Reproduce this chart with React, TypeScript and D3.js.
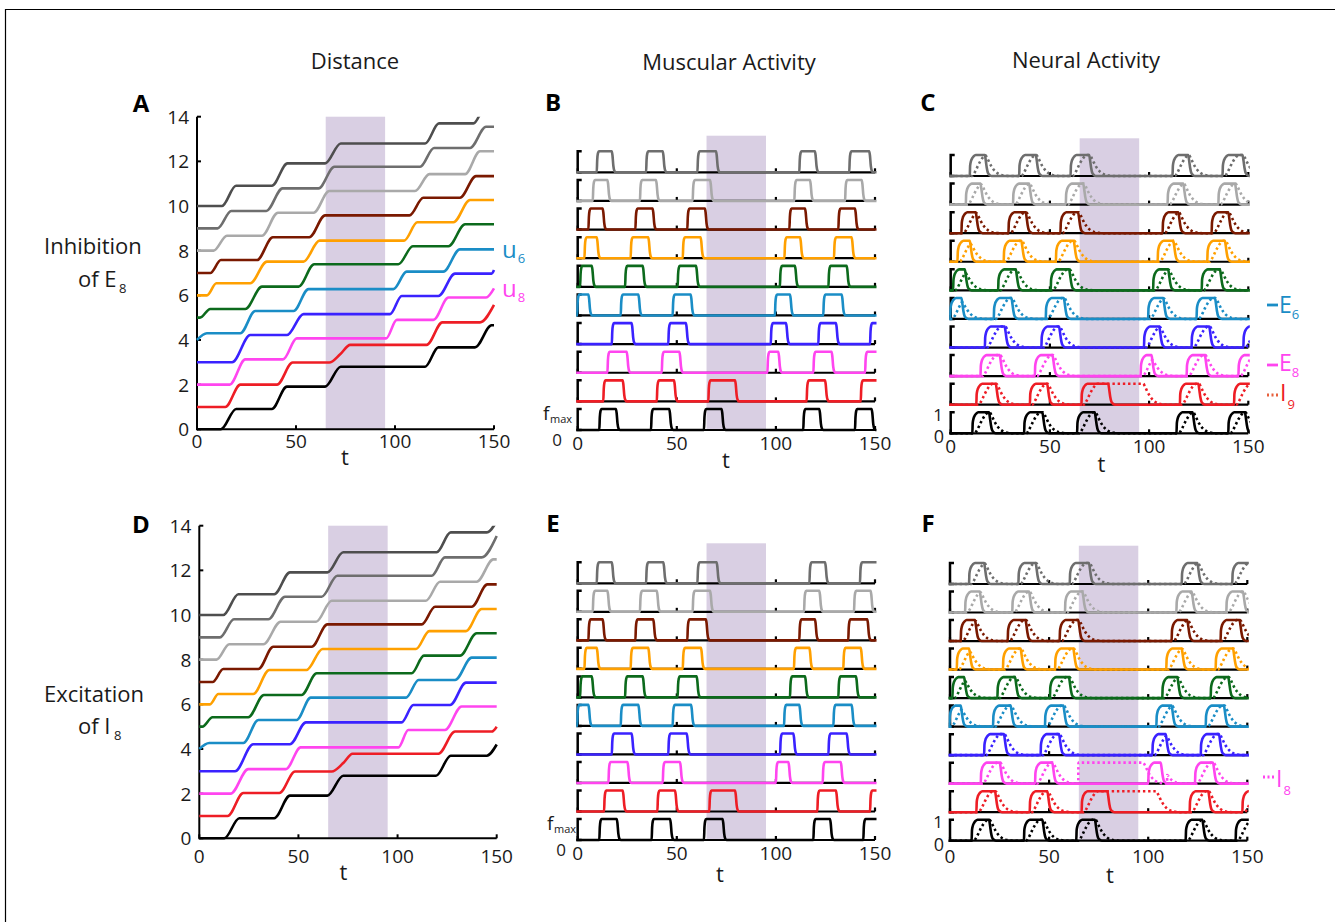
import React from "react";
import * as d3 from "d3";

// ---------------- data ----------------
const T_TICKS = [0, 50, 100, 150];
const N_TICKS = [0, 2, 4, 6, 8, 10, 12, 14];
const SHADE = [65, 95];

// trace colours, bottom segment first
const TRACE_COLORS = [
  "#000000", "#ee1d25", "#ff45ef", "#3a22ff", "#1a8dc6", "#0c6a1c",
  "#ffa000", "#7a1900", "#a9a9a9", "#6e6e6e", "#4e4e4e",
];

// distance curves: [n at t=0, [rise start, rise end, n after], ...]
type Step = [number, number, number];
type Stair = [number, Step[]];

const distInhibition: Stair[] = [
  [0, [[12, 19.8, 0.91], [37.8, 45.4, 1.91], [64.7, 72.6, 2.8], [115.2, 121.9, 3.67], [140.4, 148.8, 4.66]]],
  [1, [[14.3, 21.9, 2.0], [40.4, 48.3, 2.99], [66.8, 72.3, 3.36], [72.3, 77.4, 3.78], [116, 123.9, 4.79], [142.9, 150, 5.57]]],
  [2, [[16.5, 24.4, 3.13], [43.4, 50.4, 4.07], [95.5, 100.9, 4.9], [119.4, 127, 5.9], [146, 150, 6.31]]],
  [3, [[17.7, 26.9, 4.22], [45.4, 53.8, 5.16], [97.5, 103.4, 5.97], [121.9, 130.3, 6.97], [148.8, 150, 7.13]]],
  [4, [[0, 5, 4.3], [21.9, 29.4, 5.3], [48.8, 56.3, 6.28], [99.2, 105.9, 7.06], [124.4, 132.8, 8.06]]],
  [5, [[1.5, 6.7, 5.39], [24.4, 32.8, 6.39], [51.3, 59.2, 7.39], [101.7, 109, 8.2], [127, 135.4, 9.18]]],
  [6, [[5, 9.8, 6.54], [26.9, 35.3, 7.51], [53.8, 61.9, 8.45], [104.6, 111.3, 9.27], [129.5, 137.9, 10.27]]],
  [7, [[6.7, 12.1, 7.58], [30.3, 38.3, 8.6], [56.7, 64.7, 9.58], [107.3, 114.3, 10.37], [132.8, 140.9, 11.34]]],
  [8, [[8.4, 15.1, 8.67], [32.8, 40.9, 9.7], [58.9, 66.8, 10.67], [110.1, 117.4, 11.43], [135.4, 142.9, 12.45]]],
  [9, [[10.4, 17.3, 9.78], [35, 43.2, 10.79], [61.4, 69.4, 11.76], [112.7, 119.7, 12.6], [137.9, 146, 13.55]]],
  [10, [[12.6, 19.7, 10.91], [37.8, 45.7, 11.91], [64.7, 72.6, 12.8], [115.2, 122.2, 13.7], [139.6, 146.6, 14.6]]],
];

const distExcitation: Stair[] = [
  [0, [[12.6, 20.2, 0.9], [37.8, 45.7, 1.91], [64.6, 72.6, 2.8], [119.4, 126.8, 3.7], [145, 150, 4.2]]],
  [1, [[14.3, 22.2, 2.03], [40.4, 48.3, 2.99], [66.8, 72.6, 3.37], [72.6, 77.3, 3.79], [120.6, 129, 4.78], [147.5, 150, 5.0]]],
  [2, [[15.8, 24.7, 3.1], [43.7, 51.1, 4.07], [100.4, 105.4, 4.85], [123.9, 132.3, 5.9]]],
  [3, [[18, 27.2, 4.21], [45.7, 53.8, 5.19], [102, 108, 5.97], [126.5, 134.5, 6.97]]],
  [4, [[0, 5, 4.27], [22.2, 29.8, 5.3], [49.1, 56.2, 6.3], [104.3, 110.6, 7.09], [129, 137.4, 8.09]]],
  [5, [[1.5, 6.7, 5.42], [24.7, 32.6, 6.42], [51.6, 59.2, 7.39], [107.1, 113.3, 8.18], [131.5, 139.9, 9.18]]],
  [6, [[5.4, 9.6, 6.46], [27.2, 35.3, 7.54], [54.1, 62.2, 8.48], [109.3, 116, 9.28], [134.5, 142.4, 10.27]]],
  [7, [[6.7, 12.1, 7.58], [29.8, 37.3, 8.58], [56.7, 64.6, 9.58], [112.2, 118.9, 10.37], [137.4, 145.3, 11.37]]],
  [8, [[8.7, 15.1, 8.69], [32.3, 41, 9.7], [58.9, 66.8, 10.64], [114.3, 121.4, 11.49], [139.9, 148.3, 12.49]]],
  [9, [[10.4, 17.5, 9.81], [34.8, 43.2, 10.82], [61.7, 69.6, 11.76], [117.2, 123.9, 12.58], [142.4, 150, 13.54]]],
  [10, [[12.1, 19.7, 10.93], [37.8, 45.7, 11.91], [64.6, 72.6, 12.81], [119.7, 126.8, 13.7], [145, 152, 14.6]]],
];

// muscle bursts [on, off] per segment, bottom row first
const muscleInhibition: number[][][] = [
  [[10.9, 19.3], [37, 46.2], [63.7, 72.6], [113.8, 121.9], [139.9, 148.3]],
  [[12.9, 22.7], [39.9, 48.6], [65.9, 79.4], [115.5, 124.8], [142.8, 153]],
  [[15, 24.7], [42.4, 51.3], [95.7, 101.2], [118.9, 128.1], [145, 153]],
  [[17.2, 27.2], [45.7, 54.6], [97.4, 105.1], [121.4, 130.3], [147.5, 153]],
  [[-0.3, 5.4], [21.7, 30.6], [47.9, 57], [99.5, 107.1], [123.9, 133.2]],
  [[1.2, 7.1], [23.9, 32.8], [50.4, 59.7], [102, 109.6], [126.5, 135.7]],
  [[3.4, 9.6], [26.7, 35.6], [53, 62], [104.3, 112.2], [129.3, 138.2]],
  [[5.4, 12.6], [29.1, 37.8], [55.3, 64.2], [106.8, 114.7], [131.5, 139.9]],
  [[7.6, 15], [31.4, 39.5], [58, 66.8], [109.3, 117.2], [134.9, 143.3]],
  [[9.6, 17.2], [34.5, 42.9], [60.4, 69.8], [111.8, 119.7], [137, 147.1]],
];

const muscleExcitation: number[][][] = [
  [[10.9, 19.7], [37.3, 46.6], [63.7, 73.1], [118.9, 127.3], [144.1, 153]],
  [[13.3, 22.7], [40.2, 49.1], [66.4, 79.4], [120.9, 130.3], [147.5, 153]],
  [[15.5, 25.1], [42.9, 51.6], [100, 106.3], [123.6, 132.7]],
  [[17.2, 27.2], [45.7, 55], [102.1, 108.8], [126.5, 135.7]],
  [[-0.3, 5.4], [21.7, 30.6], [47.9, 57.2], [104.1, 111.8], [129, 138.2]],
  [[1.2, 7.1], [23.9, 32.8], [50.4, 60], [107.1, 114.7], [131.5, 140.4]],
  [[3.4, 9.6], [26.7, 35.6], [53, 62.2], [109.1, 116.9], [134, 142.8]],
  [[5.4, 12.6], [29.1, 38.1], [55.3, 64.7], [111.8, 119.7], [136.5, 146.1]],
  [[7.6, 15], [31.4, 39.9], [58, 66.8], [114.2, 121.9], [139.4, 147.8]],
  [[9.6, 17.2], [34.5, 43.2], [60.4, 70.1], [116.9, 124.8], [142.4, 153]],
];

// burst shapes: [time after edge, level]
const MUSCLE_RISE = [[0, 0], [0.25, 0.6], [0.6, 0.9], [1.1, 1]];
const MUSCLE_FALL = [[0, 1], [0.35, 0.8], [0.8, 0.3], [1.3, 0.07], [2, 0]];
const E_RISE = [[0, 0], [0.2, 0.5], [0.6, 0.7], [1.2, 0.84], [2, 0.94], [3, 1]];
const E_FALL = [[0, 1], [0.5, 0.72], [1, 0.38], [1.6, 0.14], [2.5, 0.04], [3.5, 0]];
const I_RISE = [[0, 0], [1, 0.12], [2, 0.3], [3, 0.5], [4, 0.68], [5, 0.83], [6, 0.94], [7, 1]];
const I_FALL = [[0, 1], [1, 0.85], [2, 0.65], [3, 0.47], [4, 0.33], [5, 0.22], [6, 0.14], [8, 0.05], [10, 0.015], [12, 0]];
const I_STEP = [[0, 0], [0.1, 1]];
const I_DELAY = 1.2;
const I_LAG = 0.3;

// I held high past its burst: [row, burst index, off time]
const holdInhibition = [[1, 2, 97]];
const holdExcitation = [[1, 2, 104]];
// I driven from outside: [row, on, off]
const driveExcitation = [[2, 64.7, 97.5]];

// ---------------- helpers ----------------
const FONT = "'Open Sans', 'Liberation Sans', sans-serif";
const INK = "#1a1a1a";
const AMP = 21;

type Pt = [number, number];
type Pulse = { on: number; off: number; rise: number[][]; fall: number[][] };

function tplAt(tpl: number[][], dt: number) {
  if (dt <= tpl[0][0]) return tpl[0][1];
  for (let k = 1; k < tpl.length; k++) {
    if (dt <= tpl[k][0]) {
      const [a, va] = tpl[k - 1];
      const [b, vb] = tpl[k];
      return va + ((vb - va) * (dt - a)) / (b - a);
    }
  }
  return tpl[tpl.length - 1][1];
}

function stairPoints([start, steps]: Stair): Pt[] {
  const pts: Pt[] = [[0, start]];
  const add = (t: number, v: number) => {
    if (t > pts[pts.length - 1][0] + 1e-3) pts.push([t, v]);
  };
  let lv = start;
  steps.forEach(([a, b, next]) => {
    add(a, lv);
    add(b, next);
    lv = next;
  });
  add(150, lv);
  return pts;
}

function tracePoints(pulses: Pulse[]): Pt[] {
  const pts: Pt[] = [[-3, 0]];
  const add = (t: number, v: number) => {
    if (t > pts[pts.length - 1][0] + 1e-3) pts.push([t, v]);
  };
  pulses
    .slice()
    .sort((a, b) => a.on - b.on)
    .forEach(({ on, off, rise, fall }) => {
      const dur = off - on;
      rise.forEach(([dt, v]) => {
        if (dt < dur) add(on + dt, v);
      });
      const top = tplAt(rise, dur);
      add(off, top);
      fall.forEach(([dt, v]) => {
        if (dt > 0) add(off + dt, top * v);
      });
    });
  add(160, 0);
  return pts;
}

function neuralRow(row: number, bursts: number[][], holds: number[][], drives: number[][]) {
  const E: Pulse[] = bursts.map(([on, off]) => ({ on, off, rise: E_RISE, fall: E_FALL }));
  const I: Pulse[] = bursts.map(([on, off], k) => {
    const hold = holds.find((h) => h[0] === row && h[1] === k);
    return { on: on + I_DELAY, off: hold ? hold[2] : off + I_LAG, rise: I_RISE, fall: I_FALL };
  });
  drives
    .filter((d) => d[0] === row)
    .forEach((d) => I.push({ on: d[1], off: d[2], rise: I_STEP, fall: I_FALL }));
  return { E, I };
}

// ---------------- panels ----------------
type DistProps = {
  id: string; lines: Stair[]; x0: number; x1: number; y0: number; yTop: number;
  tickDy: number; tY: number; tX: number;
};

function DistancePanel({ id, lines, x0, x1, y0, yTop, tickDy, tY, tX }: DistProps) {
  const x = d3.scaleLinear().domain([0, 150]).range([x0, x1]);
  const y = d3.scaleLinear().domain([0, 14]).range([y0, yTop]);
  const line = d3
    .line<Pt>()
    .x((d) => x(d[0]))
    .y((d) => y(d[1]))
    .curve(d3.curveMonotoneX);
  return (
    <g>
      <defs>
        <clipPath id={`clip-${id}`}>
          <rect x={x0 - 2} y={yTop} width={x1 - x0 + 4} height={y0 - yTop + 4} />
        </clipPath>
      </defs>
      <rect x={x(SHADE[0])} y={yTop} width={x(SHADE[1]) - x(SHADE[0])} height={y0 - yTop} fill="#d9cfe3" />
      <g stroke="#000" strokeWidth={2} fill="none">
        <line x1={x0} x2={x0} y1={y0 + 1} y2={yTop} />
        <line x1={x0} x2={x1} y1={y0} y2={y0} />
        {N_TICKS.map((n) => (
          <line key={n} x1={x0} x2={x0 + 4} y1={y(n)} y2={y(n)} />
        ))}
        {T_TICKS.map((t) => (
          <line key={t} x1={x(t)} x2={x(t)} y1={y0} y2={y0 - 4} />
        ))}
      </g>
      <g clipPath={`url(#clip-${id})`} fill="none" strokeWidth={2.6}>
        {lines.map((l, i) => (
          <path key={i} d={line(stairPoints(l)) || ""} stroke={TRACE_COLORS[i]} />
        ))}
      </g>
      <g fontFamily={FONT} fontSize={19} fill={INK}>
        {N_TICKS.map((n) => (
          <text key={n} x={x0 - 8} y={y(n) + 7} textAnchor="end">{n}</text>
        ))}
        {T_TICKS.map((t) => (
          <text key={t} x={x(t)} y={y0 + tickDy} textAnchor="middle">{t}</text>
        ))}
        <text x={tX} y={tY} textAnchor="middle" fontSize={22}>t</text>
      </g>
    </g>
  );
}

type RowProps = {
  id: string; rows: { solid: Pt[]; dotted?: Pt[] }[]; x0: number; x1: number;
  base0: number; base9: number; shadeTop: number; tickDy: number; tX: number; tY: number;
  yLabels: React.ReactNode;
};

function RowPanel({ id, rows, x0, x1, base0, base9, shadeTop, tickDy, tX, tY, yLabels }: RowProps) {
  const x = d3.scaleLinear().domain([0, 150]).range([x0, x1]);
  const base = d3.scaleLinear().domain([0, 9]).range([base0, base9]);
  return (
    <g>
      <defs>
        <clipPath id={`clip-${id}`}>
          <rect x={x0 - 1.5} y={shadeTop - 10} width={x1 - x0 + 3} height={base0 - shadeTop + 20} />
        </clipPath>
      </defs>
      <rect x={x(SHADE[0])} y={shadeTop} width={x(SHADE[1]) - x(SHADE[0])} height={base0 - shadeTop} fill="#d9cfe3" />
      {rows.map((r, i) => {
        const b = base(i);
        const line = d3
          .line<Pt>()
          .x((d) => x(d[0]))
          .y((d) => b - d[1] * AMP)
          .curve(d3.curveMonotoneX);
        const color = TRACE_COLORS[i];
        return (
          <g key={i}>
            <g stroke="#000" fill="none" strokeWidth={2.2}>
              <path d={`M${x0 + 4},${b - AMP}H${x0}V${b}H${x0 + 4}`} strokeWidth={2.5} />
              <line x1={x0} x2={x1} y1={b} y2={b} />
              {T_TICKS.map((t) => (
                <line key={t} x1={x(t)} x2={x(t)} y1={b} y2={b - 4} />
              ))}
            </g>
            <g clipPath={`url(#clip-${id})`} fill="none" stroke={color}>
              <path d={line(r.solid) || ""} strokeWidth={2.6} />
              {r.dotted && (
                <path d={line(r.dotted) || ""} strokeWidth={2.6} strokeDasharray="2.4 2.8" />
              )}
            </g>
          </g>
        );
      })}
      <g fontFamily={FONT} fontSize={19} fill={INK}>
        {T_TICKS.map((t) => (
          <text key={t} x={x(t)} y={base0 + tickDy} textAnchor="middle">{t}</text>
        ))}
        <text x={tX} y={tY} textAnchor="middle" fontSize={22}>t</text>
        {yLabels}
      </g>
    </g>
  );
}

function muscleRows(bursts: number[][][]) {
  return bursts.map((row) => ({
    solid: tracePoints(row.map(([on, off]) => ({ on, off, rise: MUSCLE_RISE, fall: MUSCLE_FALL }))),
  }));
}

function neuralRows(bursts: number[][][], holds: number[][], drives: number[][]) {
  return bursts.map((row, i) => {
    const { E, I } = neuralRow(i, row, holds, drives);
    return { solid: tracePoints(E), dotted: tracePoints(I) };
  });
}

function Sub({ x, y, main, sub, color, size = 23, subDx = 2, subDy = 6 }: any) {
  return (
    <text x={x} y={y} fill={color} fontFamily={FONT} fontSize={size}>
      {main}
      <tspan fontSize={13} dx={subDx} dy={subDy}>{sub}</tspan>
    </text>
  );
}

function LegendMark({ x, y, color, dotted }: any) {
  return (
    <line x1={x} x2={x + 11} y1={y} y2={y} stroke={color} strokeWidth={2.8}
      strokeDasharray={dotted ? "2 2.5" : undefined} />
  );
}

export default function App() {
  const W = 1335;
  const H = 922;
  const fmaxLabels = (base0: number, dx: number) => (
    <g>
      <text x={543 + dx} y={base0 - 10} fontSize={19}>f</text>
      <text x={550 + dx} y={base0 - 7.5} fontSize={11}>max</text>
      <text x={557 + dx} y={base0 + 15.5} fontSize={17} textAnchor="middle">0</text>
    </g>
  );
  const unitLabels = (base0: number) => (
    <g>
      <text x={943} y={base0 - 12.5} fontSize={17} textAnchor="end">1</text>
      <text x={944} y={base0 + 10} fontSize={18} textAnchor="end">0</text>
    </g>
  );
  return (
    <svg width={W} height={H} style={{ position: "absolute", left: 0, top: 0, background: "#fff" }}>
      <path d={`M5.5,${H}V9.5H${W}`} fill="none" stroke="#000" strokeWidth={1.2} />

      <g fontFamily={FONT} fontSize={22} fill={INK} textAnchor="middle">
        <text x={355} y={69}>Distance</text>
        <text x={729} y={70}>Muscular Activity</text>
        <text x={1086} y={68}>Neural Activity</text>
      </g>

      <g fontFamily={FONT} fontSize={24} fontWeight={700} fill="#000" textAnchor="middle">
        <text x={141} y={112}>A</text>
        <text x={553} y={111}>B</text>
        <text x={928} y={111}>C</text>
        <text x={141} y={533}>D</text>
        <text x={553} y={532}>E</text>
        <text x={928} y={532}>F</text>
      </g>

      <g fontFamily={FONT} fontSize={22} fill={INK}>
        <text x={44} y={254}>Inhibition</text>
        <text x={78} y={287}>of E</text>
        <text x={119} y={293} fontSize={13}>8</text>
        <text x={44} y={702}>Excitation</text>
        <text x={78} y={734}>of I</text>
        <text x={114} y={740} fontSize={13}>8</text>
      </g>

      <DistancePanel id="A" lines={distInhibition} x0={197} x1={494} y0={429.3} yTop={116.7} tickDy={19} tY={465} tX={345} />
      <DistancePanel id="D" lines={distExcitation} x0={199.3} x1={496.7} y0={838.3} yTop={525.7} tickDy={25} tY={880} tX={343.5} />

      <RowPanel id="B" rows={muscleRows(muscleInhibition)} x0={577.7} x1={875} base0={430} base9={172.3}
        shadeTop={135.7} tickDy={20} tX={726} tY={468} yLabels={fmaxLabels(430, 0)} />
      <RowPanel id="E" rows={muscleRows(muscleExcitation)} x0={577.7} x1={875} base0={840} base9={583.3}
        shadeTop={543.3} tickDy={20} tX={720} tY={882} yLabels={fmaxLabels(840, 4)} />
      <RowPanel id="C" rows={neuralRows(muscleInhibition, holdInhibition, [])} x0={950.7} x1={1248.3}
        base0={433.3} base9={176} shadeTop={138.3} tickDy={20} tX={1101.5} tY={472} yLabels={unitLabels(433.3)} />
      <RowPanel id="F" rows={neuralRows(muscleExcitation, holdExcitation, driveExcitation)} x0={950} x1={1247.3}
        base0={840.7} base9={584} shadeTop={545.7} tickDy={22} tX={1110} tY={883} yLabels={unitLabels(840.7)} />

      {/* panel A labels */}
      <Sub x={502} y={258} main="u" sub="6" color={TRACE_COLORS[4]} size={24} subDx={1} subDy={5} />
      <Sub x={502} y={297} main="u" sub="8" color={TRACE_COLORS[2]} size={24} subDx={1} subDy={5} />

      {/* panel C legend */}
      <LegendMark x={1267} y={305} color={TRACE_COLORS[4]} />
      <Sub x={1279} y={313} main="E" sub="6" color={TRACE_COLORS[4]} subDx={0} subDy={6} />
      <LegendMark x={1267} y={365} color={TRACE_COLORS[2]} />
      <Sub x={1279} y={371} main="E" sub="8" color={TRACE_COLORS[2]} subDx={0} subDy={6} />
      <LegendMark x={1267} y={395} color="#e8603c" dotted />
      <Sub x={1280} y={401} main="I" sub="9" color={TRACE_COLORS[1]} subDx={1} subDy={8} />

      {/* panel F legend */}
      <LegendMark x={1263} y={777} color={TRACE_COLORS[2]} dotted />
      <Sub x={1276} y={787} main="I" sub="8" color={TRACE_COLORS[2]} subDx={1} subDy={8} />
    </svg>
  );
}
